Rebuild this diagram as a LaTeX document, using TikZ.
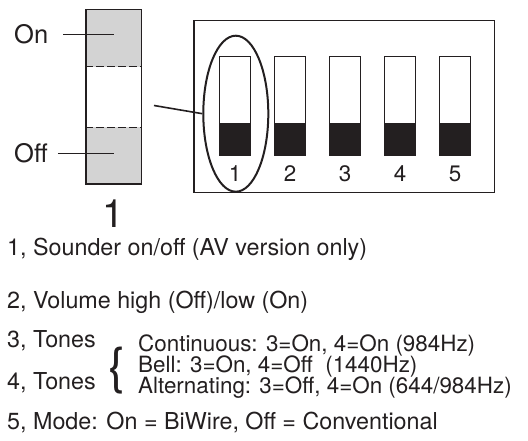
\documentclass[tikz,border=0pt]{standalone}
\usepackage{fontspec}
\setmainfont{TeX Gyre Heros}
\usetikzlibrary{shapes.geometric}
\usetikzlibrary{calc}

\definecolor{ink}{RGB}{35,31,32}
\definecolor{swgray}{RGB}{211,211,211}

\begin{document}
\begin{tikzpicture}[
    x=1pt, y=1pt,
    txt/.style = {
      anchor = base west, inner sep = 0pt, text = ink,
      font = \fontsize{23.3}{27}\selectfont,
    },
    swbox/.style = {
      draw = ink, line width = 1pt,
      minimum width = 31.7pt, minimum height = 99.3pt,
      inner sep = 0pt,
    },
    swnum/.style = {
      anchor = base, inner sep = 0pt, text = ink,
      font = \fontsize{22.4}{27}\selectfont,
    },
    lead/.style = {ink, line width = 1pt},
  ]
  \useasboundingbox (0,0) rectangle (528,441);

  % switch 1, enlarged
  \fill[swgray] (86,373.7) rectangle (141.7,431.7);
  \fill[swgray] (86,257) rectangle (141.7,314.3);
  \node[draw=ink, line width=1.2pt, minimum width=55.7pt,
    minimum height=174.7pt, inner sep=0pt] (big) at (113.85,344.35) {};
  \draw[ink, line width=1.4pt, dash pattern=on 7.5pt off 3.5pt]
    ($(big.north west)+(0,-58)$) -- ($(big.north east)+(0,-58)$);
  \draw[ink, line width=1.4pt, dash pattern=on 7.5pt off 3.5pt]
    ($(big.south west)+(0,57.3)$) -- ($(big.south east)+(0,57.3)$);

  \node[txt, font=\fontsize{25.5}{30}\selectfont] (on) at (14,397) {On};
  \draw[lead] ([xshift=15pt]on.east) -- (on.east -| big.center);
  \node[txt, font=\fontsize{25.5}{30}\selectfont] (off) at (14,278.3) {Off};
  \draw[lead] ([xshift=10pt]off.east) -- (off.east -| big.center);

  \node[anchor=base, inner sep=0pt, text=ink,
    font=\fontsize{39}{45}\selectfont] (bignum) at (113,213) {1};

  % switch block
  \node[draw=ink, line width=1.3pt, minimum width=300.3pt,
    minimum height=172pt, inner sep=0pt] (panel) at (344.15,334.3) {};

  \node[swbox] (s1) at (234.85,334.65) {};
  \fill[ink] (s1.south west) rectangle ($(s1.south east)+(0,33.3)$);
  \node[swnum] (n1) at (235,259.3) {1};

  \node[swbox] (s2) at (289.85,334.65) {};
  \fill[ink] (s2.south west) rectangle ($(s2.south east)+(0,33.3)$);
  \node[swnum] (n2) at (290,259.3) {2};

  \node[swbox] (s3) at (344.85,334.65) {};
  \fill[ink] (s3.south west) rectangle ($(s3.south east)+(0,33.3)$);
  \node[swnum] (n3) at (345,259.3) {3};

  \node[swbox] (s4) at (399.85,334.65) {};
  \fill[ink] (s4.south west) rectangle ($(s4.south east)+(0,33.3)$);
  \node[swnum] (n4) at (400,259.3) {4};

  \node[swbox] (s5) at (454.85,334.65) {};
  \fill[ink] (s5.south west) rectangle ($(s5.south east)+(0,33.3)$);
  \node[swnum] (n5) at (455,259.3) {5};

  \node[draw=ink, line width=2pt, ellipse, minimum width=65pt,
    minimum height=156pt, inner sep=0pt] (sel) at (235.8,327.3) {};
  \coordinate (link) at (154,335.5);
  \draw[ink, line width=1.6pt] (link) -- (sel.west);

  % legend
  \node[txt] (d1) at (7,185) {1, Sounder on/off (AV version only)};
  \node[txt] (d2) at (7,132.5) {2, Volume high (Off)/low (On)};
  \node[txt] (d3) at (7,93) {3, Tones};
  \node[txt] (d4) at (7,51) {4, Tones};
  \node[txt] (d5) at (7,11.5) {5, Mode: On = BiWire, Off = Conventional};

  \node[inner sep=0pt, text=ink, font=\fontsize{50}{52}\selectfont]
    (brace) at (117,70.5) {\{};
  \node[txt, font=\fontsize{22.4}{27}\selectfont] (t1) at (138,89.3)
    {Continuous: 3=On, 4=On (984Hz)};
  \node[txt, font=\fontsize{22.4}{27}\selectfont] (t2) at (138,68.3)
    {Bell: 3=On, 4=Off\ \ (1440Hz)};
  \node[txt, font=\fontsize{22.4}{27}\selectfont] (t3) at (138,47.7)
    {Alternating: 3=Off, 4=On (644/984Hz)};
\end{tikzpicture}
\end{document}
